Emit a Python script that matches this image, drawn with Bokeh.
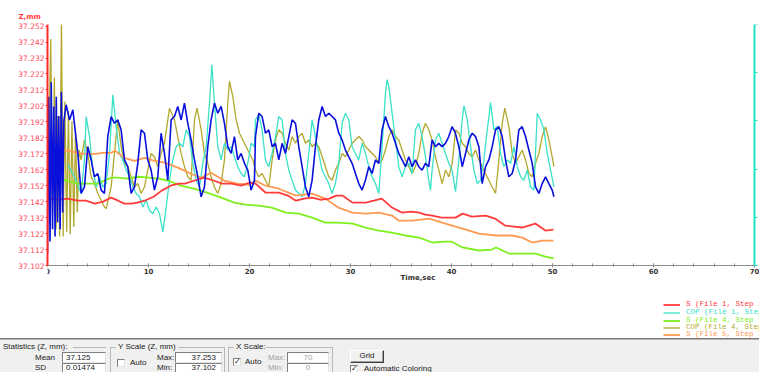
from bokeh.plotting import figure
from bokeh.models import (Range1d, LinearAxis, FixedTicker, PrintfTickFormatter,
                          CustomJSTickFormatter, Legend, LegendItem, Label, Div)
from bokeh.layouts import column
from bokeh.embed import file_html
from bokeh.resources import INLINE

# ---------------- data ----------------
time_ticks = [0, 10, 20, 30, 40, 50, 60, 70]
time_minor = [0, 2, 4, 6, 8, 10, 12, 14, 16, 18, 20, 22, 24, 26, 28, 30, 32, 34,
              36, 38, 40, 42, 44, 46, 48, 50, 52, 54, 56, 58, 60, 62, 64, 66, 68, 70]
z_ticks = [37.102, 37.112, 37.122, 37.132, 37.142, 37.152, 37.162, 37.172,
           37.182, 37.192, 37.202, 37.212, 37.222, 37.232, 37.242, 37.252]
cop_ticks = [0, 0.2, 0.4, 0.6, 0.8, 1.0]
z_min, z_max = 37.102, 37.253      # Y Scale (Z, mm)
t_min, t_max = 0, 70               # X Scale
cop_min, cop_max = 0.0, 1.0

# S (File 1, Step 1)  [time sec, Z mm]
s_file1 = [(0.0, 37.1439), (0.4, 37.1439), (1.0, 37.1432), (2.0, 37.1439), (3.0, 37.1426),
           (3.8, 37.1426), (4.7, 37.1408), (5.5, 37.1420), (6.3, 37.1445), (7.0, 37.1426),
           (7.6, 37.1408), (8.3, 37.1408), (8.9, 37.1414), (9.6, 37.1426), (10.5, 37.1451),
           (11.3, 37.1489), (12.2, 37.1520), (13.0, 37.1533), (13.6, 37.1533), (14.5, 37.1551),
           (15.5, 37.1570), (16.5, 37.1551), (17.3, 37.1533), (18.2, 37.1533), (19.2, 37.1520),
           (20.0, 37.1540), (20.6, 37.1533), (21.6, 37.1476), (22.9, 37.1476), (23.8, 37.1458),
           (24.6, 37.1426), (25.4, 37.1439), (26.2, 37.1445), (27.0, 37.1432), (27.9, 37.1439),
           (28.6, 37.1458), (29.2, 37.1458), (30.2, 37.1414), (31.5, 37.1414), (32.3, 37.1426),
           (33.1, 37.1439), (34.1, 37.1383), (35.1, 37.1351), (36.0, 37.1358), (36.8, 37.1351),
           (37.4, 37.1339), (38.1, 37.1333), (39.0, 37.1320), (40.4, 37.1320), (41.1, 37.1345),
           (42.0, 37.1326), (43.4, 37.1333), (44.3, 37.1314), (45.3, 37.1270), (46.2, 37.1264),
           (47.0, 37.1258), (48.3, 37.1283), (49.3, 37.1239), (50.1, 37.1245)]

# S (File 4, Step 1)
s_file4 = [(0.0, 37.1564), (1.0, 37.1564), (2.0, 37.1551), (3.0, 37.1533), (4.0, 37.1533),
           (5.0, 37.1533), (5.6, 37.1551), (6.3, 37.1570), (7.0, 37.1570), (7.9, 37.1564),
           (9.0, 37.1576), (10.0, 37.1570), (11.0, 37.1564), (12.0, 37.1551), (13.2, 37.1520),
           (14.5, 37.1501), (15.8, 37.1476), (17.2, 37.1445), (18.5, 37.1414), (19.6, 37.1401),
           (20.9, 37.1395), (22.2, 37.1383), (23.6, 37.1351), (24.9, 37.1345), (26.2, 37.1320),
           (27.5, 37.1289), (28.8, 37.1289), (30.2, 37.1283), (31.5, 37.1258), (32.8, 37.1239),
           (34.1, 37.1226), (35.4, 37.1208), (36.8, 37.1195), (38.1, 37.1164), (39.4, 37.1170),
           (40.0, 37.1170), (41.1, 37.1133), (42.7, 37.1114), (44.0, 37.1120), (44.4, 37.1133),
           (45.7, 37.1095), (47.0, 37.1095), (48.3, 37.1095), (49.3, 37.1076), (50.1, 37.1064)]

# S (File 5, Step 1)
s_file5 = [(0.0, 37.1751), (1.0, 37.1751), (2.0, 37.1739), (3.0, 37.1726), (3.8, 37.1720),
           (4.7, 37.1720), (5.5, 37.1726), (6.3, 37.1726), (6.7, 37.1739), (7.6, 37.1695),
           (8.6, 37.1676), (9.6, 37.1695), (10.6, 37.1676), (11.6, 37.1664), (12.9, 37.1633),
           (14.2, 37.1595), (15.2, 37.1570), (16.2, 37.1601), (17.5, 37.1551), (18.8, 37.1533),
           (20.0, 37.1526), (20.6, 37.1551), (21.6, 37.1520), (22.9, 37.1501), (24.6, 37.1458),
           (26.2, 37.1470), (27.5, 37.1439), (28.8, 37.1383), (30.2, 37.1351), (31.5, 37.1345),
           (32.8, 37.1351), (34.1, 37.1333), (34.8, 37.1301), (36.1, 37.1301), (37.8, 37.1314),
           (39.4, 37.1283), (41.1, 37.1251), (42.7, 37.1220), (44.4, 37.1208), (46.0, 37.1208),
           (47.0, 37.1195), (48.0, 37.1164), (49.0, 37.1176), (50.1, 37.1176)]

# COP (File 1, Step 1)  [time sec, COP]
cop_file1 = [(2.0, 0.42), (2.67, 0.368), (3.33, 0.299), (3.66, 0.438), (3.83, 0.618), (4.16, 0.535),
             (4.49, 0.396), (4.82, 0.326), (5.15, 0.368), (5.48, 0.326), (5.81, 0.340), (6.14, 0.465),
             (6.47, 0.708), (6.80, 0.576), (7.13, 0.465), (7.46, 0.438), (7.79, 0.396), (8.12, 0.368),
             (8.45, 0.326), (8.78, 0.299), (9.11, 0.285), (9.44, 0.243), (9.77, 0.271), (10.10, 0.229),
             (10.43, 0.215), (10.76, 0.243), (11.09, 0.215), (11.42, 0.139), (11.75, 0.243), (12.08, 0.354),
             (12.41, 0.438), (12.74, 0.493), (13.07, 0.507), (13.40, 0.493), (13.73, 0.563), (14.06, 0.535),
             (14.39, 0.424), (14.72, 0.354), (15.05, 0.326), (15.38, 0.424), (15.71, 0.493), (16.04, 0.674),
             (16.27, 0.833), (16.53, 0.674), (16.86, 0.493), (17.19, 0.438), (17.52, 0.507), (17.85, 0.479),
             (18.18, 0.493), (18.51, 0.451), (18.84, 0.410), (19.17, 0.382), (19.50, 0.368), (19.83, 0.424),
             (20.16, 0.507), (20.49, 0.493),
             (20.59, 0.604), (20.92, 0.625), (21.25, 0.563), (21.58, 0.438), (21.91, 0.410), (22.24, 0.465),
             (22.57, 0.535), (22.90, 0.618), (23.23, 0.604), (23.56, 0.465), (23.89, 0.396), (24.22, 0.354),
             (24.55, 0.313), (24.88, 0.299), (25.21, 0.285), (25.54, 0.340), (25.87, 0.465), (26.20, 0.604),
             (26.53, 0.535), (26.86, 0.465), (27.19, 0.396), (27.52, 0.368), (27.85, 0.340), (28.18, 0.299),
             (28.51, 0.340), (28.84, 0.424), (29.17, 0.590), (29.50, 0.632), (29.83, 0.604), (30.16, 0.493),
             (30.49, 0.465), (30.82, 0.438), (31.15, 0.507), (31.48, 0.465), (31.81, 0.410), (32.14, 0.368),
             (32.47, 0.340), (32.80, 0.299), (33.13, 0.493), (33.46, 0.715), (33.63, 0.771), (33.79, 0.743),
             (34.12, 0.632), (34.45, 0.521), (34.78, 0.410), (35.11, 0.368), (35.44, 0.410), (35.77, 0.424),
             (36.10, 0.382), (36.43, 0.563), (36.76, 0.590), (37.09, 0.535), (37.42, 0.451), (37.75, 0.354),
             (37.92, 0.313), (38.08, 0.396), (38.41, 0.521), (38.74, 0.549), (39.07, 0.507), (39.40, 0.465),
             (39.73, 0.424), (40.06, 0.396),
             (40.40, 0.306), (40.73, 0.438), (41.06, 0.604), (41.23, 0.663), (41.56, 0.604), (41.89, 0.493),
             (42.22, 0.396), (42.55, 0.340), (42.88, 0.354), (43.21, 0.438), (43.54, 0.563), (43.87, 0.676),
             (44.20, 0.563), (44.53, 0.576), (44.86, 0.465), (45.19, 0.410), (45.52, 0.438), (45.85, 0.424),
             (46.18, 0.493), (46.51, 0.410), (46.84, 0.368), (47.17, 0.354), (47.50, 0.396), (47.83, 0.326),
             (48.16, 0.313), (48.49, 0.632), (48.82, 0.604), (49.15, 0.563), (49.48, 0.465), (49.81, 0.396),
             (50.14, 0.326)]

# COP (File 4, Step 1)
cop_file4 = [(0.00, 0.30), (0.15, 0.55), (0.32, 0.94), (0.50, 0.22), (0.68, 0.78), (0.85, 0.15),
             (1.02, 0.62), (1.20, 0.12), (1.38, 1.02), (1.55, 0.12), (1.72, 0.68), (1.90, 0.14),
             (2.07, 0.64), (2.25, 0.13), (2.42, 0.60), (2.60, 0.16), (2.77, 0.55), (2.95, 0.22),
             (3.12, 0.48),
             (3.33, 0.438), (3.66, 0.521), (3.99, 0.465), (4.32, 0.368), (4.65, 0.340), (4.98, 0.299),
             (5.31, 0.271), (5.64, 0.243), (5.81, 0.236), (6.30, 0.326), (6.63, 0.465), (6.96, 0.604),
             (7.29, 0.493), (7.62, 0.424), (7.95, 0.410), (8.28, 0.368), (8.61, 0.326), (8.94, 0.340),
             (9.27, 0.299), (9.60, 0.326), (9.93, 0.396), (10.26, 0.465), (10.59, 0.451), (10.92, 0.410),
             (11.25, 0.465), (11.58, 0.507), (11.91, 0.604), (12.08, 0.653), (12.57, 0.604), (12.90, 0.535),
             (13.23, 0.465), (13.56, 0.410), (13.89, 0.368), (14.22, 0.354), (14.55, 0.604), (14.81, 0.653),
             (15.21, 0.563), (15.54, 0.465), (15.87, 0.424), (16.20, 0.368), (16.53, 0.326), (16.86, 0.299),
             (17.19, 0.340), (17.52, 0.438), (17.85, 0.674), (18.02, 0.764), (18.35, 0.701), (18.68, 0.604),
             (19.01, 0.549), (19.34, 0.521), (19.67, 0.493), (20.00, 0.465), (20.33, 0.438),
             (20.59, 0.396), (20.92, 0.368), (21.25, 0.382), (21.58, 0.354), (21.91, 0.326), (22.24, 0.438),
             (22.57, 0.521), (22.90, 0.563), (23.23, 0.549), (23.56, 0.507), (23.89, 0.479), (24.22, 0.535),
             (24.55, 0.507), (24.88, 0.535), (25.21, 0.549), (25.54, 0.507), (25.87, 0.521), (26.20, 0.493),
             (26.53, 0.507), (26.86, 0.493), (27.19, 0.451), (27.52, 0.410), (27.85, 0.368), (28.18, 0.354),
             (28.51, 0.396), (28.84, 0.424), (29.17, 0.465), (29.50, 0.451), (29.83, 0.479), (30.16, 0.507),
             (30.49, 0.521), (30.82, 0.535), (31.15, 0.521), (31.48, 0.493), (31.81, 0.479), (32.14, 0.465),
             (32.47, 0.451), (32.80, 0.424), (33.13, 0.438), (33.46, 0.479), (33.79, 0.535), (34.12, 0.563),
             (34.45, 0.535), (34.78, 0.521), (35.11, 0.479), (35.44, 0.438), (35.77, 0.410), (36.10, 0.382),
             (36.43, 0.410), (36.76, 0.465), (37.09, 0.549), (37.42, 0.590), (37.75, 0.563), (38.08, 0.521),
             (38.41, 0.451), (38.74, 0.396), (39.07, 0.340),
             (39.41, 0.396), (39.74, 0.368), (40.07, 0.424), (40.40, 0.563), (40.73, 0.549), (41.06, 0.507),
             (41.39, 0.493), (41.72, 0.465), (42.05, 0.451), (42.38, 0.479), (42.71, 0.438), (43.04, 0.410),
             (43.37, 0.382), (43.70, 0.354), (44.03, 0.326), (44.36, 0.299), (44.69, 0.438), (45.02, 0.590),
             (45.28, 0.653), (45.68, 0.576), (46.01, 0.465), (46.34, 0.424), (46.67, 0.451), (47.00, 0.479),
             (47.33, 0.438), (47.66, 0.382), (47.99, 0.368), (48.32, 0.424), (48.65, 0.465), (48.98, 0.535),
             (49.31, 0.576), (49.64, 0.521), (49.97, 0.451), (50.14, 0.410)]

# COP (File 5, Step 1)
cop_file5 = [(0.00, 0.05), (0.12, 0.70), (0.25, 0.10), (0.37, 0.76), (0.50, 0.15), (0.62, 0.66),
             (0.75, 0.12), (0.87, 0.70), (1.00, 0.18), (1.12, 0.62), (1.25, 0.15), (1.37, 0.72),
             (1.50, 0.22), (1.62, 0.60),
             (1.85, 0.667), (2.18, 0.604), (2.51, 0.646), (3.00, 0.465), (3.33, 0.299), (3.66, 0.326),
             (3.99, 0.493), (4.32, 0.438), (4.65, 0.368), (4.98, 0.382), (5.31, 0.313), (5.64, 0.299),
             (5.97, 0.535), (6.30, 0.618), (6.63, 0.590), (6.96, 0.604), (7.29, 0.563), (7.62, 0.438),
             (7.95, 0.410), (8.28, 0.299), (8.61, 0.326), (8.94, 0.424), (9.27, 0.563), (9.60, 0.549),
             (9.93, 0.438), (10.26, 0.396), (10.59, 0.313), (10.92, 0.368), (11.25, 0.549), (11.58, 0.465),
             (11.91, 0.354), (12.24, 0.604), (12.57, 0.618), (12.90, 0.660), (13.23, 0.604), (13.56, 0.674),
             (13.89, 0.590), (14.22, 0.521), (14.55, 0.438), (14.88, 0.368), (15.21, 0.285), (15.54, 0.326),
             (15.87, 0.493), (16.20, 0.604), (16.53, 0.674), (16.86, 0.632), (17.19, 0.660), (17.52, 0.590),
             (17.85, 0.493), (18.18, 0.465), (18.51, 0.535), (18.84, 0.438), (19.17, 0.465), (19.50, 0.424),
             (19.83, 0.396), (20.16, 0.313), (20.49, 0.354),
             (20.59, 0.535), (20.92, 0.632), (21.25, 0.618), (21.58, 0.549), (21.91, 0.563), (22.24, 0.493),
             (22.57, 0.507), (22.90, 0.438), (23.23, 0.507), (23.56, 0.465), (23.89, 0.535), (24.22, 0.604),
             (24.55, 0.590), (24.88, 0.493), (25.21, 0.410), (25.54, 0.326), (25.87, 0.285), (26.20, 0.354),
             (26.53, 0.493), (26.86, 0.604), (27.19, 0.660), (27.52, 0.618), (27.85, 0.632), (28.18, 0.618),
             (28.51, 0.604), (28.84, 0.549), (29.17, 0.521), (29.50, 0.479), (29.83, 0.451), (30.16, 0.424),
             (30.49, 0.382), (30.82, 0.340), (31.15, 0.313), (31.48, 0.354), (31.81, 0.410), (32.14, 0.382),
             (32.47, 0.438), (32.80, 0.424), (33.13, 0.563), (33.46, 0.618), (33.79, 0.576), (34.12, 0.549),
             (34.45, 0.507), (34.78, 0.465), (35.11, 0.438), (35.44, 0.410), (35.77, 0.451), (36.10, 0.410),
             (36.43, 0.438), (36.76, 0.410), (37.09, 0.396), (37.42, 0.424), (37.75, 0.410), (38.08, 0.521),
             (38.41, 0.493), (38.74, 0.507), (39.07, 0.493), (39.40, 0.507), (39.73, 0.535), (40.06, 0.576),
             (40.39, 0.549),
             (40.73, 0.493), (41.06, 0.410), (41.39, 0.465), (41.72, 0.521), (42.05, 0.549), (42.38, 0.535),
             (42.71, 0.493), (43.04, 0.340), (43.37, 0.410), (43.70, 0.438), (44.03, 0.493), (44.36, 0.563),
             (44.69, 0.576), (45.02, 0.535), (45.35, 0.438), (45.68, 0.368), (46.01, 0.382), (46.34, 0.438),
             (46.67, 0.563), (47.00, 0.576), (47.33, 0.535), (47.66, 0.479), (47.99, 0.424), (48.32, 0.326),
             (48.65, 0.299), (48.98, 0.340), (49.31, 0.368), (49.64, 0.340), (49.97, 0.313), (50.14, 0.285)]

legend_labels = ["S (File 1, Step 1)", "COP (File 1, Step 1)", "S (File 4, Step 1)",
                 "COP (File 4, Step 1)", "S (File 5, Step 1)"]

stat_mean = "37.125"
stat_sd = "0.01474"
yscale_max = "37.253"
yscale_min = "37.102"
xscale_max = "70"
xscale_min = "0"

C_RED = "#ff3b3b"
C_CYAN = "#3ae2c8"
C_GREEN = "#7df01e"
C_OLIVE = "#b3a82e"
C_ORANGE = "#ff9a52"
C_BLUE = "#0a10dc"

# ---------------- main chart ----------------
# The plot frame runs from y=24 px down to the bottom of the canvas (338 px) and from
# x=47 px to the right edge (759 px); the data part (Z 37.102..37.253, t 0..70) is the
# upper-left 707 x 241 px, the rest holds axis labels and the legend.
FRAME_W, DATA_W = 712, 707
FRAME_H, DATA_H = 314, 241
extra_y = (FRAME_H - DATA_H) / DATA_H
extra_x = (FRAME_W - DATA_W) / DATA_W
z_lo = z_min - (z_max - z_min) * extra_y
cop_lo = cop_min - (cop_max - cop_min) * extra_y
t_hi = t_max + (t_max - t_min) * extra_x

p = figure(width=759, height=338, x_range=Range1d(t_min, t_hi), y_range=Range1d(z_lo, z_max),
           output_backend="svg", toolbar_location=None,
           min_border_left=47, min_border_right=0, min_border_top=24, min_border_bottom=0,
           outline_line_color=None, background_fill_color="white", border_fill_color="white")
p.xgrid.visible = False
p.ygrid.visible = False
p.extra_y_ranges = {"cop": Range1d(cop_lo, cop_max)}


def xs(series):
    return [a for a, b in series]


def ys(series):
    return [b for a, b in series]


r_olive = p.line(xs(cop_file4), ys(cop_file4), y_range_name="cop", line_color=C_OLIVE, line_width=1.3)
r_cyan = p.line(xs(cop_file1), ys(cop_file1), y_range_name="cop", line_color=C_CYAN, line_width=1.3)
r_green = p.line(xs(s_file4), ys(s_file4), line_color=C_GREEN, line_width=1.8)
r_orange = p.line(xs(s_file5), ys(s_file5), line_color=C_ORANGE, line_width=1.8)
r_red = p.line(xs(s_file1), ys(s_file1), line_color=C_RED, line_width=1.8)
r_blue = p.line(xs(cop_file5), ys(cop_file5), y_range_name="cop", line_color=C_BLUE, line_width=1.6)

# x axis, drawn at Z = 37.102
xa = p.xaxis[0]
xa.fixed_location = z_min
xa.bounds = (t_min, t_max)
xa.ticker = FixedTicker(ticks=time_ticks, minor_ticks=time_minor)
xa.axis_line_color = "#8c8c8c"
xa.major_tick_line_color = "#8c8c8c"
xa.minor_tick_line_color = "#8c8c8c"
xa.major_tick_in = 2
xa.major_tick_out = 2
xa.minor_tick_in = 2
xa.minor_tick_out = 1
xa.major_label_standoff = 0
xa.major_label_text_font = "DejaVu Sans"
xa.major_label_text_font_size = "7px"
xa.major_label_text_font_style = "bold"
xa.major_label_text_color = "#3a3a3a"

# left axis (Z, mm)
ya = p.yaxis[0]
ya.bounds = (z_min, z_max)
ya.ticker = FixedTicker(ticks=z_ticks)
ya.formatter = PrintfTickFormatter(format="%.3f")
ya.axis_line_color = "#ff2a2a"
ya.axis_line_width = 2
ya.major_tick_line_color = "#ff2a2a"
ya.major_tick_in = 0
ya.major_tick_out = 2
ya.minor_tick_line_color = None
ya.major_label_standoff = 1
ya.major_label_text_font = "DejaVu Sans"
ya.major_label_text_font_size = "7.5px"
ya.major_label_text_color = "#ff4a58"

# right axis (COP) at t = 70 - its labels fall outside the window
ra = LinearAxis(y_range_name="cop", ticker=FixedTicker(ticks=cop_ticks), bounds=(cop_min, cop_max),
                fixed_location=t_max, formatter=CustomJSTickFormatter(code="return ''"))
ra.axis_line_color = "#20e4c4"
ra.axis_line_width = 2
ra.major_tick_line_color = "#20e4c4"
ra.major_tick_in = 0
ra.major_tick_out = 3
ra.minor_tick_line_color = None
ra.major_label_standoff = 0
p.add_layout(ra, "right")

# axis titles
p.title.text = "Z,mm"
p.title.align = "left"
p.title.offset = -29
p.title.standoff = 7
p.title.text_color = "#ff3a3a"
p.title.text_font = "DejaVu Sans"
p.title.text_font_size = "7px"
p.title.text_font_style = "bold"

p.add_layout(Label(x=34.95, y=z_min - (z_max - z_min) * 12 / DATA_H, text="Time,sec",
                   text_color="#333333", text_font="DejaVu Sans", text_font_size="7px",
                   text_font_style="bold", text_baseline="middle"))

# legend rows (one legend per row so that each label takes its line colour)
legend_rows = [(r_red, C_RED, 30), (r_cyan, C_CYAN, 22), (r_green, C_GREEN, 14),
               (r_olive, C_OLIVE, 7), (r_orange, C_ORANGE, 0)]
for (rend, col, vy), lab in zip(legend_rows, legend_labels):
    lg = Legend(items=[LegendItem(label=lab, renderers=[rend])], location=(616, vy),
                label_text_color=col, label_text_font="Liberation Mono", label_text_font_size="7.5px",
                glyph_width=17, glyph_height=5, label_height=7, label_standoff=6,
                padding=0, margin=0, spacing=0, border_line_color=None,
                background_fill_alpha=0)
    p.add_layout(lg)

# ---------------- bottom control panel (dialog controls) ----------------
FONT = "font-family:'Liberation Sans',Arial,sans-serif;font-size:8px;white-space:nowrap;"
SUNKEN = ("background:#ffffff;border-top:1px solid #7f7f7f;border-left:1px solid #7f7f7f;"
          "border-bottom:1px solid #e2e2e2;border-right:1px solid #e2e2e2;box-sizing:border-box;")


def blk(left, top, w, h, style):
    return (f'<div style="position:absolute;left:{left}px;top:{top}px;width:{w}px;'
            f'height:{h}px;{style}"></div>')


def txt(left, cy, s, color="#202020", w=None, align="left"):
    width = f"width:{w}px;" if w is not None else ""
    return (f'<div style="position:absolute;left:{left}px;top:{cy - 5}px;{width}height:10px;'
            f'line-height:10px;text-align:{align};color:{color};{FONT}">{s}</div>')


parts = [
    blk(0, 0, 759, 1, "background:#7a7a7a;"),
    blk(0, 1, 759, 1, "background:#b4b4b4;"),
    # etched group frames
    blk(73, 9, 33, 1, "background:#b8b8b8;"),
    blk(110, 9, 6, 1, "background:#b8b8b8;"),
    blk(178, 9, 46, 1, "background:#b8b8b8;"),
    blk(110, 9, 1, 25, "background:#b8b8b8;"),
    blk(224, 9, 1, 25, "background:#b8b8b8;"),
    blk(228, 9, 6, 1, "background:#b8b8b8;"),
    blk(266, 9, 66, 1, "background:#b8b8b8;"),
    blk(228, 9, 1, 25, "background:#b8b8b8;"),
    blk(332, 9, 1, 25, "background:#b8b8b8;"),
    # edit boxes
    blk(62, 14, 44, 11, SUNKEN), blk(62, 25, 44, 11, SUNKEN),
    blk(175, 14, 47, 11, SUNKEN), blk(175, 25, 47, 11, SUNKEN),
    blk(287, 14, 42, 11, SUNKEN), blk(287, 25, 42, 11, SUNKEN),
    # check boxes
    blk(117, 21, 8, 8, SUNKEN), blk(233, 20, 8, 8, SUNKEN), blk(350, 27, 8, 8, SUNKEN),
    txt(233, 24, "&#10003;", "#111111", 8, "center"),
    txt(350, 31, "&#10003;", "#111111", 8, "center"),
    # Grid button
    blk(350, 12, 34, 13, "background:#f0f0f0;border-top:1px solid #ffffff;border-left:1px solid #ffffff;"
        "border-bottom:1px solid #404040;border-right:1px solid #404040;box-sizing:border-box;"
        "box-shadow:inset -1px -1px #a0a0a0;"),
    txt(350, 18, "Grid", "#202020", 34, "center"),
    # labels
    txt(3, 9, "Statistics (Z, mm):"),
    txt(35, 19.5, "Mean"), txt(35, 30, "SD"),
    txt(66, 19.5, stat_mean), txt(66, 30, stat_sd),
    txt(118, 9, "Y Scale (Z, mm)"),
    txt(130, 24.5, "Auto"),
    txt(157, 19.5, "Max:"), txt(157, 30, "Min:"),
    txt(175, 19.5, yscale_max, "#202020", 41, "right"),
    txt(175, 30, yscale_min, "#202020", 41, "right"),
    txt(236, 9, "X Scale:"),
    txt(245, 23.5, "Auto"),
    txt(268, 19.5, "Max:", "#a0a0a0"), txt(268, 30, "Min:", "#a0a0a0"),
    txt(287, 19.5, xscale_max, "#a0a0a0", 42, "center"),
    txt(287, 30, xscale_min, "#a0a0a0", 42, "center"),
    txt(364, 30.5, "Automatic Coloring"),
]
panel_html = ('<div style="position:relative;width:759px;height:34px;overflow:hidden;'
              'background:#f0f0f0;">' + "".join(parts) + "</div>")
panel = Div(text=panel_html, width=759, height=34, margin=0)

layout = column(p, panel, spacing=0)
open("out.html", "w").write(file_html(layout, INLINE))
